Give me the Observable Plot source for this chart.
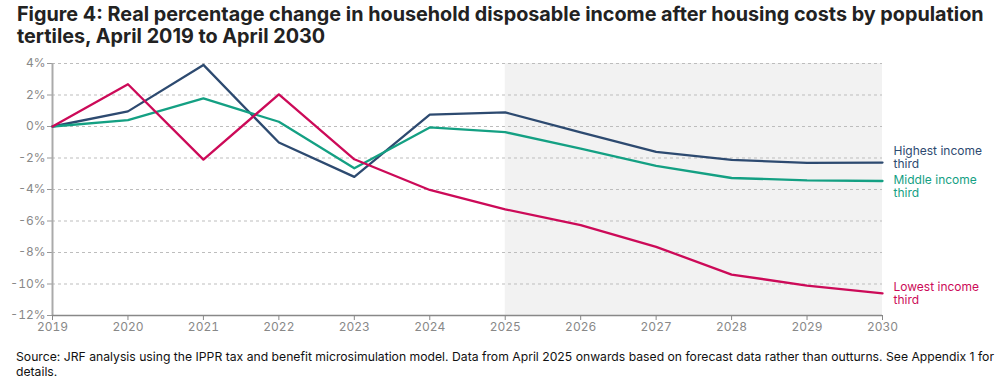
<!DOCTYPE html>
<html>
<head>
<meta charset="utf-8">
<script src="https://cdn.jsdelivr.net/npm/d3@7"></script>
<script src="https://cdn.jsdelivr.net/npm/@observablehq/plot@0.6"></script>
<style>
  body { margin: 0; background: #fff; font-family: Inter, "Open Sans", sans-serif; }
  #wrap { width: 1000px; height: 387px; position: relative; overflow: hidden; }
  h1 { margin: 0; position: absolute; left: 17px; top: 3px; font-size: 19.8px; line-height: 22px; font-weight: 700; color: #222; white-space: nowrap; }
  #chart { position: absolute; left: 0; top: 50px; }
  .cap { position: absolute; left: 16px; top: 349px; font-size: 12.2px; line-height: 15px; color: #111; white-space: nowrap; }
</style>
</head>
<body>
<div id="wrap">
  <h1>Figure 4: Real percentage change in household disposable income after housing costs by population<br>tertiles, April 2019 to April 2030</h1>
  <div id="chart"></div>
  <div class="cap">Source: JRF analysis using the IPPR tax and benefit microsimulation model. Data from April 2025 onwards based on forecast data rather than outturns. See Appendix 1 for<br>details.</div>
</div>
<script>
const years = [2019, 2020, 2021, 2022, 2023, 2024, 2025, 2026, 2027, 2028, 2029, 2030];
const highest = [0, 0.96, 3.91, -1.02, -3.2, 0.75, 0.9, -0.38, -1.61, -2.12, -2.31, -2.29];
const middle  = [0, 0.41, 1.78, 0.3, -2.65, -0.06, -0.36, -1.4, -2.5, -3.27, -3.42, -3.46];
const lowest  = [0, 2.68, -2.1, 2.04, -2.08, -4.03, -5.26, -6.26, -7.64, -9.4, -10.1, -10.6];
const seriesNames = ["Highest income\nthird", "Middle income\nthird", "Lowest income\nthird"];
const seriesColors = ["#2d4a70", "#14a083", "#cc0a58"];
const labelDy = [-5, 5, 0];
const yTicks = [4, 2, 0, -2, -4, -6, -8, -10, -12];
const forecastStart = 2025, forecastEnd = 2030;

const seriesVals = [highest, middle, lowest];
const data = [];
seriesVals.forEach((vals, i) => vals.forEach((v, j) => data.push({year: years[j], value: v, series: seriesNames[i]})));

const labelMarks = seriesVals.map((vals, i) =>
  Plot.text([{year: years[years.length - 1], value: vals[vals.length - 1], series: seriesNames[i]}], {
    x: "year", y: "value", text: "series", fill: seriesColors[i],
    dx: 11, dy: labelDy[i], textAnchor: "start", lineHeight: 1.1, fontSize: 12
  })
);

const plot = Plot.plot({
  width: 1000,
  height: 290,
  marginTop: 13,
  marginBottom: 25,
  marginLeft: 52,
  marginRight: 118,
  style: {fontFamily: "Inter, sans-serif", fontSize: "12px", background: "transparent"},
  x: {domain: [2019, 2030], axis: null, label: null},
  y: {domain: [-12, 4], axis: null, label: null},
  color: {domain: seriesNames, range: seriesColors},
  marks: [
    Plot.rect([{x1: forecastStart, x2: forecastEnd}], {x1: "x1", x2: "x2", y1: -12, y2: 4, fill: "#f2f2f2"}),
    Plot.gridY(yTicks.filter(d => d > -12), {stroke: "#bdbdbd", strokeOpacity: 1, strokeDasharray: "3,3", strokeWidth: 1}),
    Plot.axisY(yTicks, {label: null, tickFormat: d => d + "%", tickSize: 5, stroke: "#999", fill: "#888", tickPadding: 2, fontSize: 12}),
    Plot.axisX(years, {label: null, tickFormat: d => String(d), tickSize: 5, stroke: "#888", fill: "#888", tickPadding: 2, fontSize: 12}),
    Plot.ruleX([2019], {stroke: "#aaa", strokeWidth: 2}),
    Plot.ruleY([-12], {stroke: "#888", strokeWidth: 1.5}),
    Plot.line(data, {x: "year", y: "value", z: "series", stroke: "series", strokeWidth: 2.3}),
    ...labelMarks
  ]
});
document.getElementById("chart").appendChild(plot);
</script>
</body>
</html>
